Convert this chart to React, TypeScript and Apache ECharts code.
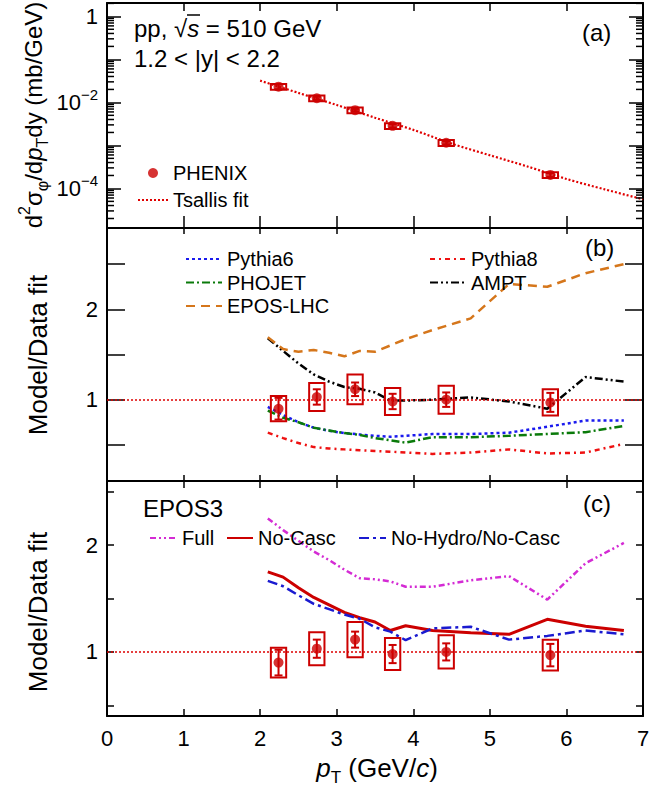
import React, { useEffect, useRef } from 'react';
import * as echarts from 'echarts';

const FONT = '"Liberation Sans", Arial, Helvetica, sans-serif';

// ---------- data ----------
const dataPt = [2.24, 2.74, 3.24, 3.73, 4.43, 5.79];
const spectrum = [2.32e-2, 1.25e-2, 6.6e-3, 2.85e-3, 1.15e-3, 2.06e-4];
const ratio = [0.9, 1.03, 1.115, 0.98, 1.0, 0.97];
const statErr = [0.12, 0.085, 0.075, 0.085, 0.08, 0.105];
const sysErr = [0.14, 0.155, 0.165, 0.15, 0.155, 0.145];

const fitPt = [2.0, 2.5, 3.0, 3.5, 4.0, 4.5, 5.0, 5.5, 6.0, 6.5, 7.0];
const fitVal = [3.2e-2, 1.66e-2, 8.7e-3, 4.4e-3, 2.3e-3, 1.1e-3, 5.9e-4, 3.2e-4, 1.66e-4, 9.5e-5, 5.6e-5];

const modelPt = [2.1, 2.3, 2.5, 2.7, 2.9, 3.1, 3.3, 3.5, 3.7, 3.9, 4.25, 4.75, 5.25, 5.75, 6.25, 6.75];
const pythia6 = [0.92, 0.83, 0.75, 0.69, 0.655, 0.63, 0.615, 0.6, 0.59, 0.6, 0.62, 0.62, 0.635, 0.7, 0.77, 0.77];
const pythia8 = [0.635, 0.575, 0.52, 0.475, 0.46, 0.45, 0.44, 0.432, 0.425, 0.415, 0.4, 0.415, 0.45, 0.405, 0.415, 0.51];
const phojet = [0.88, 0.8, 0.75, 0.69, 0.66, 0.63, 0.61, 0.575, 0.55, 0.525, 0.585, 0.585, 0.6, 0.62, 0.64, 0.71];
const ampt = [1.68, 1.54, 1.4, 1.28, 1.2, 1.14, 1.12, 1.08, 0.99, 0.99, 1.0, 1.025, 0.98, 0.9, 1.25, 1.2];
const eposLhc = [1.69, 1.56, 1.53, 1.55, 1.52, 1.48, 1.54, 1.53, 1.6, 1.67, 1.77, 1.9, 2.28, 2.25, 2.4, 2.5];
const epos3Full = [2.25, 2.14, 2.04, 1.94, 1.86, 1.77, 1.69, 1.68, 1.66, 1.61, 1.61, 1.67, 1.71, 1.49, 1.83, 2.02];
const epos3NoCasc = [1.75, 1.7, 1.6, 1.51, 1.44, 1.37, 1.32, 1.28, 1.2, 1.245, 1.2, 1.18, 1.165, 1.305, 1.24, 1.2];
const epos3NoHydro = [1.665, 1.615, 1.53, 1.45, 1.4, 1.35, 1.31, 1.23, 1.19, 1.11, 1.22, 1.235, 1.115, 1.15, 1.2, 1.165];

const xTickLabels = ['0', '1', '2', '3', '4', '5', '6', '7'];

// ---------- styles ----------
const RED = '#cc0000';
const L = 107;
const W = 536;
const panels = [
  { top: 3, height: 225, xTickB: 12, xTickT: 8, yTick: 14, min: -4.92, max: 0.31, step: 1 },
  { top: 228, height: 253, xTickB: 6, xTickT: 6, yTick: 18, min: 0.1, max: 2.9, step: 0.5 },
  { top: 481, height: 235, xTickB: 7, xTickT: 7, yTick: 7, min: 0.4, max: 2.6, step: 0.5 },
];

const lg = (v: number) => Math.log10(v);
const near = (a: number, b: number) => Math.abs(a - b) < 1e-6;

function buildOption() {
  const grid = panels.map((p) => ({ left: L, width: W, top: p.top, height: p.height }));

  const xAxis: any[] = [];
  const yAxis: any[] = [];
  panels.forEach((p, gi) => {
    ['bottom', 'top'].forEach((pos) => {
      const showLabel = gi === 2 && pos === 'bottom';
      xAxis.push({
        type: 'value', gridIndex: gi, position: pos, min: 0, max: 7, interval: 1,
        axisLine: { onZero: false, lineStyle: { color: '#000', width: 2 } },
        axisTick: { inside: true, length: pos === 'bottom' ? p.xTickB : p.xTickT, lineStyle: { color: '#000', width: 1.5 } },
        axisLabel: showLabel
          ? { show: true, fontSize: 22, fontFamily: FONT, color: '#000', margin: 11, formatter: (v: number) => xTickLabels[Math.round(v)] }
          : { show: false },
        splitLine: { show: false },
      });
    });
    ['left', 'right'].forEach((pos) => {
      const showLabel = pos === 'left';
      const fmt = gi === 0
        ? (v: number) => (near(v, 0) ? '1' : near(v, -2) ? '10{sup|−2}' : near(v, -4) ? '10{sup|−4}' : '')
        : (v: number) => (near(v, 1) ? '1' : near(v, 2) ? '2' : '');
      yAxis.push({
        type: 'value', gridIndex: gi, position: pos, min: p.min, max: p.max,
        minInterval: p.step, maxInterval: p.step,
        axisLine: { onZero: false, lineStyle: { color: '#000', width: 2 } },
        axisTick: { inside: true, length: p.yTick, lineStyle: { color: '#000', width: 1.5 } },
        axisLabel: showLabel
          ? {
              show: true, fontSize: 22, fontFamily: FONT, color: '#000', margin: 9, lineHeight: 30,
              formatter: fmt,
              rich: { sup: { fontSize: 15, fontFamily: FONT, color: '#000', verticalAlign: 'top', lineHeight: 15 } },
            }
          : { show: false },
        splitLine: { show: false },
      });
    });
  });

  const boxRender = (halfW: number) => (params: any, api: any) => {
    const x = api.value(0), y = api.value(1), hi = api.value(2), lo = api.value(3), sh = api.value(4), sl = api.value(5);
    const p0 = api.coord([x - halfW, hi]);
    const p1 = api.coord([x + halfW, lo]);
    const c = api.coord([x, y]);
    const s1 = api.coord([x, sh]);
    const s2 = api.coord([x, sl]);
    const cap = 4;
    const st = { stroke: RED, lineWidth: 2 };
    return {
      type: 'group',
      children: [
        { type: 'rect', shape: { x: p0[0], y: p0[1], width: p1[0] - p0[0], height: p1[1] - p0[1] }, style: { fill: 'none', stroke: RED, lineWidth: 2 } },
        { type: 'line', shape: { x1: c[0], y1: s1[1], x2: c[0], y2: s2[1] }, style: st },
        { type: 'line', shape: { x1: c[0] - cap, y1: s1[1], x2: c[0] + cap, y2: s1[1] }, style: st },
        { type: 'line', shape: { x1: c[0] - cap, y1: s2[1], x2: c[0] + cap, y2: s2[1] }, style: st },
      ],
    };
  };

  const boxesA = dataPt.map((x, i) => {
    const v = spectrum[i];
    const rs = sysErr[i] / ratio[i];
    const rt = statErr[i] / ratio[i];
    return [x, lg(v), lg(v * (1 + rs)), lg(v * (1 - rs)), lg(v * (1 + rt)), lg(v * (1 - rt))];
  });
  const boxesR = dataPt.map((x, i) => [x, ratio[i], ratio[i] + sysErr[i], ratio[i] - sysErr[i], ratio[i] + statErr[i], ratio[i] - statErr[i]]);

  const minorTicks: number[][] = [];
  for (let d = -5; d <= 0; d++) {
    for (let k = 2; k <= 9; k++) {
      const v = d + lg(k);
      if (v > panels[0].min && v < panels[0].max) minorTicks.push([0, v]);
    }
  }

  const lineS = (name: string, vals: number[], gi: number, color: string, type: any, width = 2.5) => ({
    name, type: 'line', xAxisIndex: gi * 2, yAxisIndex: gi * 2, symbol: 'none', z: 2,
    data: modelPt.map((x, i) => [x, vals[i]]),
    lineStyle: { color, width, type },
    itemStyle: { color },
  });

  const refLine = {
    symbol: ['none', 'none'], silent: true, label: { show: false },
    lineStyle: { color: '#dd0000', width: 1.5, type: [2, 2] },
    data: [{ yAxis: 1 }],
  };

  const series: any[] = [
    {
      name: 'Tsallis fit', type: 'line', xAxisIndex: 0, yAxisIndex: 0, symbol: 'none', smooth: 0.3, z: 2,
      data: fitPt.map((x, i) => [x, lg(fitVal[i])]),
      lineStyle: { color: '#e00000', width: 2.2, type: [2, 2] }, itemStyle: { color: '#e00000' },
    },
    {
      type: 'custom', xAxisIndex: 0, yAxisIndex: 0, z: 3, renderItem: boxRender(0.1),
      encode: { x: 0, y: 1 }, data: boxesA,
    },
    {
      name: 'PHENIX', type: 'scatter', xAxisIndex: 0, yAxisIndex: 0, z: 4, symbol: 'circle', symbolSize: 10,
      data: dataPt.map((x, i) => [x, lg(spectrum[i])]), itemStyle: { color: RED },
    },
    {
      type: 'custom', xAxisIndex: 0, yAxisIndex: 0, z: 5, silent: true, encode: { x: 0, y: 1 }, data: minorTicks,
      renderItem: (params: any, api: any) => {
        const v = api.value(1);
        const pl = api.coord([0, v]);
        const pr = api.coord([7, v]);
        const st = { stroke: '#000', lineWidth: 1.5 };
        return {
          type: 'group', children: [
            { type: 'line', shape: { x1: pl[0], y1: pl[1], x2: pl[0] + 7, y2: pl[1] }, style: st },
            { type: 'line', shape: { x1: pr[0], y1: pr[1], x2: pr[0] - 7, y2: pr[1] }, style: st },
          ],
        };
      },
    },
    lineS('Pythia6', pythia6, 1, '#1a1aee', [3, 3]),
    lineS('Pythia8', pythia8, 1, '#ee1111', [5, 4, 2, 4]),
    lineS('PHOJET', phojet, 1, '#0a7a0a', [8, 3, 2, 3]),
    lineS('AMPT', ampt, 1, '#000000', [8, 3, 2, 3, 2, 3]),
    lineS('EPOS-LHC', eposLhc, 1, '#d5761b', [9, 6]),
    lineS('Full', epos3Full, 2, '#d42bd4', [6, 3, 2, 3, 2, 3]),
    lineS('No-Casc', epos3NoCasc, 2, '#cc0000', 'solid', 3),
    lineS('No-Hydro/No-Casc', epos3NoHydro, 2, '#1a1ad0', [10, 4, 3, 4]),
  ];
  [1, 2].forEach((gi) => {
    series.push({
      type: 'custom', xAxisIndex: gi * 2, yAxisIndex: gi * 2, z: 3, renderItem: boxRender(0.1),
      encode: { x: 0, y: 1 }, data: boxesR,
    });
    series.push({
      name: 'ratio' + gi, type: 'scatter', xAxisIndex: gi * 2, yAxisIndex: gi * 2, z: 4, symbol: 'circle', symbolSize: 10,
      data: dataPt.map((x, i) => [x, ratio[i]]), itemStyle: { color: RED },
      markLine: refLine,
    });
  });

  const lineItem = (name: string) => ({ name, itemStyle: { opacity: 0, borderWidth: 0 } });
  const legendBase = {
    orient: 'vertical', selectedMode: false, itemHeight: 10, itemGap: 3.5,
    textStyle: { fontSize: 20, fontFamily: FONT, color: '#000' },
  };
  const legend = [
    { ...legendBase, data: ['PHENIX', lineItem('Tsallis fit')], left: 132, top: 158, itemWidth: 30, itemGap: 7 },
    { ...legendBase, data: [lineItem('Pythia6'), lineItem('PHOJET'), lineItem('EPOS-LHC')], left: 180, top: 244, itemWidth: 36 },
    { ...legendBase, data: [lineItem('Pythia8'), lineItem('AMPT')], left: 424, top: 244, itemWidth: 36 },
    { ...legendBase, data: [lineItem('Full')], left: 144, top: 523, itemWidth: 27 },
    { ...legendBase, data: [lineItem('No-Casc')], left: 221, top: 523, itemWidth: 26 },
    { ...legendBase, data: [lineItem('No-Hydro/No-Casc')], left: 353, top: 523, itemWidth: 27 },
  ];

  const richFor = (fs: number) => ({
    n: { fontSize: fs, fontFamily: FONT, fill: '#000', color: '#000', lineHeight: fs + 10 },
    it: { fontSize: fs, fontFamily: FONT, fontStyle: 'italic', fill: '#000', color: '#000', lineHeight: fs + 10 },
    sup: { fontSize: Math.round(fs * 0.65), fontFamily: FONT, fill: '#000', color: '#000', verticalAlign: 'top', lineHeight: Math.round(fs * 0.65) },
    sub: { fontSize: Math.round(fs * 0.65), fontFamily: FONT, fill: '#000', color: '#000', verticalAlign: 'bottom', lineHeight: Math.round(fs * 0.65) },
  });
  const txt = (text: string, x: number, y: number, fs: number, align = 'left', rotation = 0) => ({
    type: 'text', x, y, rotation, z: 10,
    style: {
      text, fontSize: fs, fontFamily: FONT, fill: '#000',
      align, textAlign: align, verticalAlign: 'middle', textVerticalAlign: 'middle',
      rich: richFor(fs),
    },
  });

  const graphic = [
    txt('{n|pp, √}{it|s}{n| = 510 GeV}', 134, 28, 24),
    { type: 'line', z: 10, shape: { x1: 187, y1: 15, x2: 200, y2: 15 }, style: { stroke: '#000', lineWidth: 1.5 } },
    txt('{n|1.2 < |y| < 2.2}', 134, 58, 24),
    txt('{n|(a)}', 582, 32, 24),
    txt('{n|(b)}', 585, 247, 24),
    txt('{n|(c)}', 583, 503, 24),
    txt('{n|EPOS3}', 143, 508, 24),
    txt('{n|d}{sup|2}{n|σ}{sub|φ}{n|/d}{it|p}{sub|T}{n|dy (mb/GeV)}', 33, 115, 24, 'center', Math.PI / 2),
    txt('{n|Model/Data fit}', 38, 355, 26, 'center', Math.PI / 2),
    txt('{n|Model/Data fit}', 38, 612, 26, 'center', Math.PI / 2),
    txt('{it|p}{sub|T}{n| (GeV/}{it|c}{n|)}', 377, 768, 26, 'center'),
  ];

  return {
    animation: false,
    backgroundColor: '#fff',
    grid, xAxis, yAxis, series, legend, graphic,
  };
}

export default function App() {
  const ref = useRef<HTMLDivElement>(null);
  useEffect(() => {
    const chart = echarts.init(ref.current as HTMLDivElement, null, { renderer: 'svg' });
    chart.setOption(buildOption() as any);
    return () => chart.dispose();
  }, []);
  return <div ref={ref} style={{ position: 'fixed', left: 0, top: 0, width: 672, height: 793, background: '#fff' }} />;
}
